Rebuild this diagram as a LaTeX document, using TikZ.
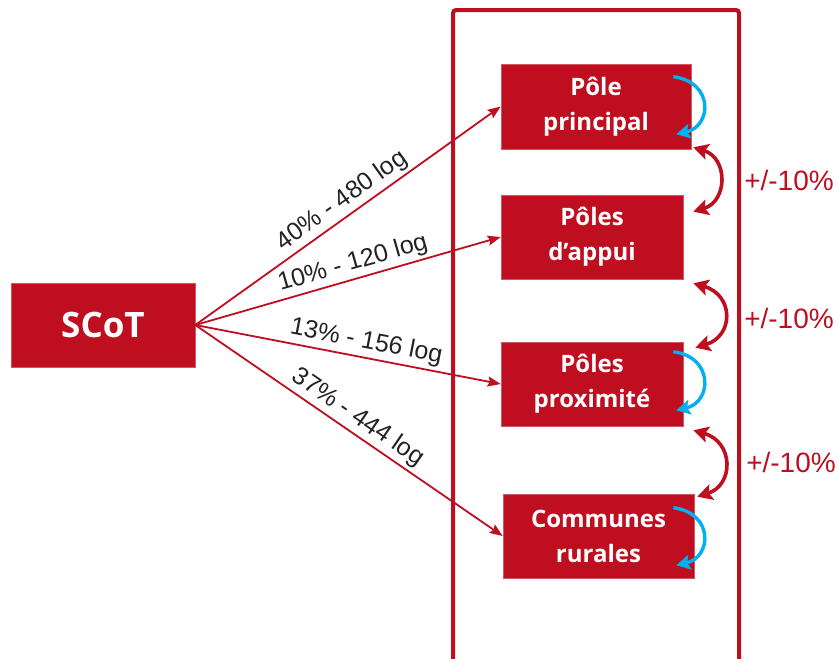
\documentclass[tikz,border=0pt]{standalone}
\usepackage{fontspec}
\setmainfont{Liberation Sans}
\newfontfamily\boxfont{Open Sans}
\usetikzlibrary{arrows.meta}
\definecolor{scred}{RGB}{192,14,33}
\definecolor{scblue}{RGB}{0,176,240}
\definecolor{lbl}{RGB}{34,34,34}
\begin{document}
\begin{tikzpicture}[x=1pt,y=-1pt,
  redbox/.style={fill=scred,draw=scred!70!white,line width=0.6pt,text=white,align=center,inner sep=0pt,
    font=\boxfont\bfseries\fontsize{24}{35}\selectfont},
  thinarrow/.style={draw=scred,line width=1.8pt,-{Stealth[length=13pt,width=10pt,inset=2pt]}},
  lab/.style={text=lbl,font=\fontsize{25}{28}\selectfont,inner sep=3pt},
  dbl/.style={draw=scred,line width=3.6pt,{Stealth[length=15pt,width=16pt,inset=3pt]}-{Stealth[length=15pt,width=16pt,inset=3pt]}},
  loop/.style={draw=scblue,line width=3.4pt,-{Stealth[length=14pt,width=15pt,inset=3pt]}},
  pct/.style={text=scred,font=\fontsize{28}{30}\selectfont,inner sep=0pt}]
\useasboundingbox (0,0) rectangle (839,659);
% frame
\draw[scred,line width=4pt,rounded corners=3pt] (453,664) -- (453,10) -- (739,10) -- (739,664);
% boxes
\node[redbox,minimum width=184pt,minimum height=84pt,font=\boxfont\bfseries\fontsize{35}{40}\selectfont] (scot) at (103,325) {SCoT};
\node[redbox,minimum width=190pt,minimum height=85pt] (pp) at (596,106.5) {Pôle\\principal};
\node[redbox,minimum width=182pt,minimum height=84pt] (pa) at (592,237) {Pôles\\d’appui};
\node[redbox,minimum width=182pt,minimum height=84pt] (px) at (592,384) {Pôles\\proximité};
\node[redbox,minimum width=191pt,minimum height=84pt] (cr) at (598.5,536) {Communes\\rurales};
% distribution arrows
\draw[thinarrow] (scot.east) -- (pp.west) node[lab,pos=.51,sloped,above] {40\% - 480 log};
\draw[thinarrow] (scot.east) -- (pa.west) node[lab,pos=.53,sloped,above] {10\% - 120 log};
\draw[thinarrow] (scot.east) -- (px.west) node[lab,pos=.55,sloped,above] {13\% - 156 log};
\draw[thinarrow] (scot.east) -- (cr.west) node[lab,pos=.50,sloped,above] {37\% - 444 log};
% +/-10% exchange arrows
\draw[dbl] ([shift={(2,-2)}]pp.south east) .. controls (728,158) and (728,201) .. ([shift={(10,17)}]pa.north east);
\draw[dbl] ([shift={(10,4)}]pa.south east) .. controls (734,295) and (734,336) .. ([shift={(12,6)}]px.north east);
\draw[dbl] ([shift={(10,4)}]px.south east) .. controls (734,442) and (734,485) .. ([shift={(3,3)}]cr.north east);
\node[pct] (t1) at (789,180) {+/-10\%};
\node[pct] (t2) at (789,318) {+/-10\%};
\node[pct] (t3) at (791,462) {+/-10\%};
% blue loops
\draw[loop] ([shift={(-18,13)}]pp.north east) .. controls (714,82) and (712,126) .. ([shift={(-15,-15)}]pp.south east);
\draw[loop] ([shift={(-10,10)}]px.north east) .. controls (714,357) and (712,402) .. ([shift={(-7,-16)}]px.south east);
\draw[loop] ([shift={(-21,14)}]cr.north east) .. controls (714,513) and (712,557) .. ([shift={(-18,-13)}]cr.south east);
\end{tikzpicture}
\end{document}
